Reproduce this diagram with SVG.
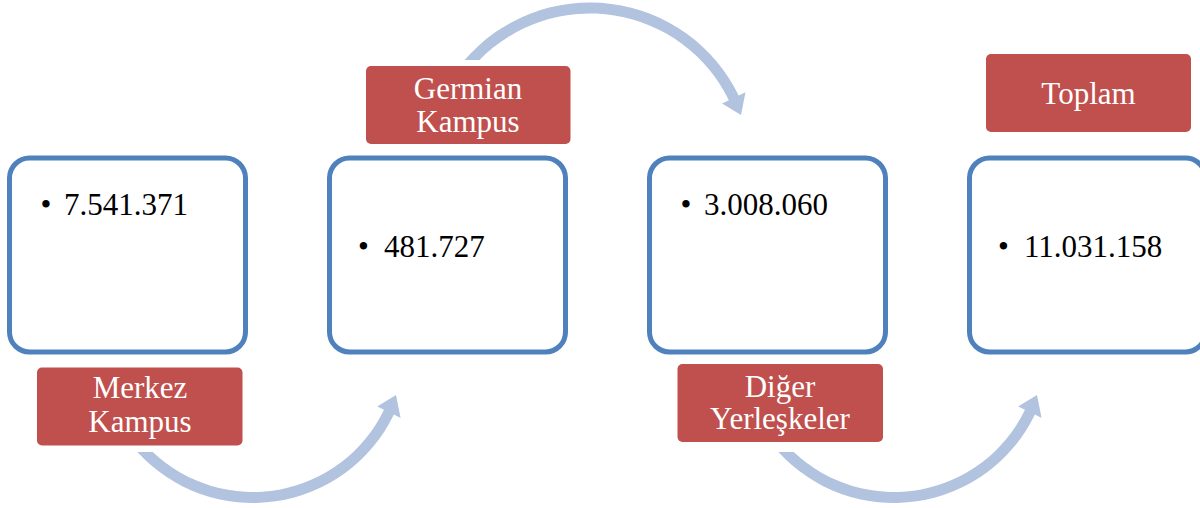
<svg xmlns="http://www.w3.org/2000/svg" width="1200" height="508" viewBox="0 0 1200 508">
<style>
.box{fill:#ffffff;stroke:#4F81BD;stroke-width:5}
.lbl{fill:#C0504D}
.arr{fill:#B1C3DF}
.num{font-family:"Liberation Serif","Times New Roman",serif;font-size:31px;fill:#000000}
.bul{font-family:"Liberation Serif","Times New Roman",serif;font-size:31px;fill:#000000;text-anchor:middle}
.lt{font-family:"Liberation Serif","Times New Roman",serif;font-size:31px;fill:#ffffff;text-anchor:middle}
</style>
<rect width="1200" height="508" fill="#ffffff"/>
<g id="connectors">
<path class="arr" d="M137.4 452 A156.5 156.5 0 0 0 393.9 414.6 L400.6 417.9 L396 394.9 L377.2 406.6 L384 409.8 A145.5 145.5 0 0 1 152.8 452 Z"/>
<path class="arr" d="M464.6 60 A165.5 165.5 0 0 1 738.7 95.4 L745.5 92.2 L741 115.1 L722.1 103.6 L728.9 100.3 A154.5 154.5 0 0 0 479.5 60 Z"/>
<path class="arr" d="M778.4 452 A156.5 156.5 0 0 0 1034.9 414.6 L1041.6 417.9 L1037 394.9 L1018.2 406.6 L1025 409.8 A145.5 145.5 0 0 1 793.8 452 Z"/>
</g>
<g id="node-merkez">
<rect class="box" x="9.5" y="158" width="236" height="194" rx="20"/>
<text class="bul" x="46" y="215">•</text>
<text class="num" x="64" y="215">7.541.371</text>
<rect class="lbl" x="37" y="367.5" width="205.5" height="78" rx="5"/>
<text class="lt" x="140" y="398">Merkez</text>
<text class="lt" x="140" y="432">Kampus</text>
</g>
<g id="node-germian">
<rect class="box" x="329.5" y="158" width="236" height="194" rx="20"/>
<text class="bul" x="363.5" y="256.5">•</text>
<text class="num" x="384" y="256.5">481.727</text>
<rect class="lbl" x="366" y="66" width="204.5" height="78" rx="5"/>
<text class="lt" x="468" y="99">Germian</text>
<text class="lt" x="468" y="132">Kampus</text>
</g>
<g id="node-diger">
<rect class="box" x="649.5" y="158" width="236" height="194" rx="20"/>
<text class="bul" x="686" y="215">•</text>
<text class="num" x="704" y="215">3.008.060</text>
<rect class="lbl" x="677.5" y="364" width="205.5" height="78" rx="5"/>
<text class="lt" x="780" y="396.5">Diğer</text>
<text class="lt" x="780" y="428.5">Yerleşkeler</text>
</g>
<g id="node-toplam">
<rect class="box" x="969.5" y="158" width="236" height="194" rx="20"/>
<text class="bul" x="1003.5" y="256.5">•</text>
<text class="num" x="1024" y="256.5">11.031.158</text>
<rect class="lbl" x="986" y="54" width="205" height="78" rx="5"/>
<text class="lt" x="1088.5" y="103.5">Toplam</text>
</g>
</svg>
